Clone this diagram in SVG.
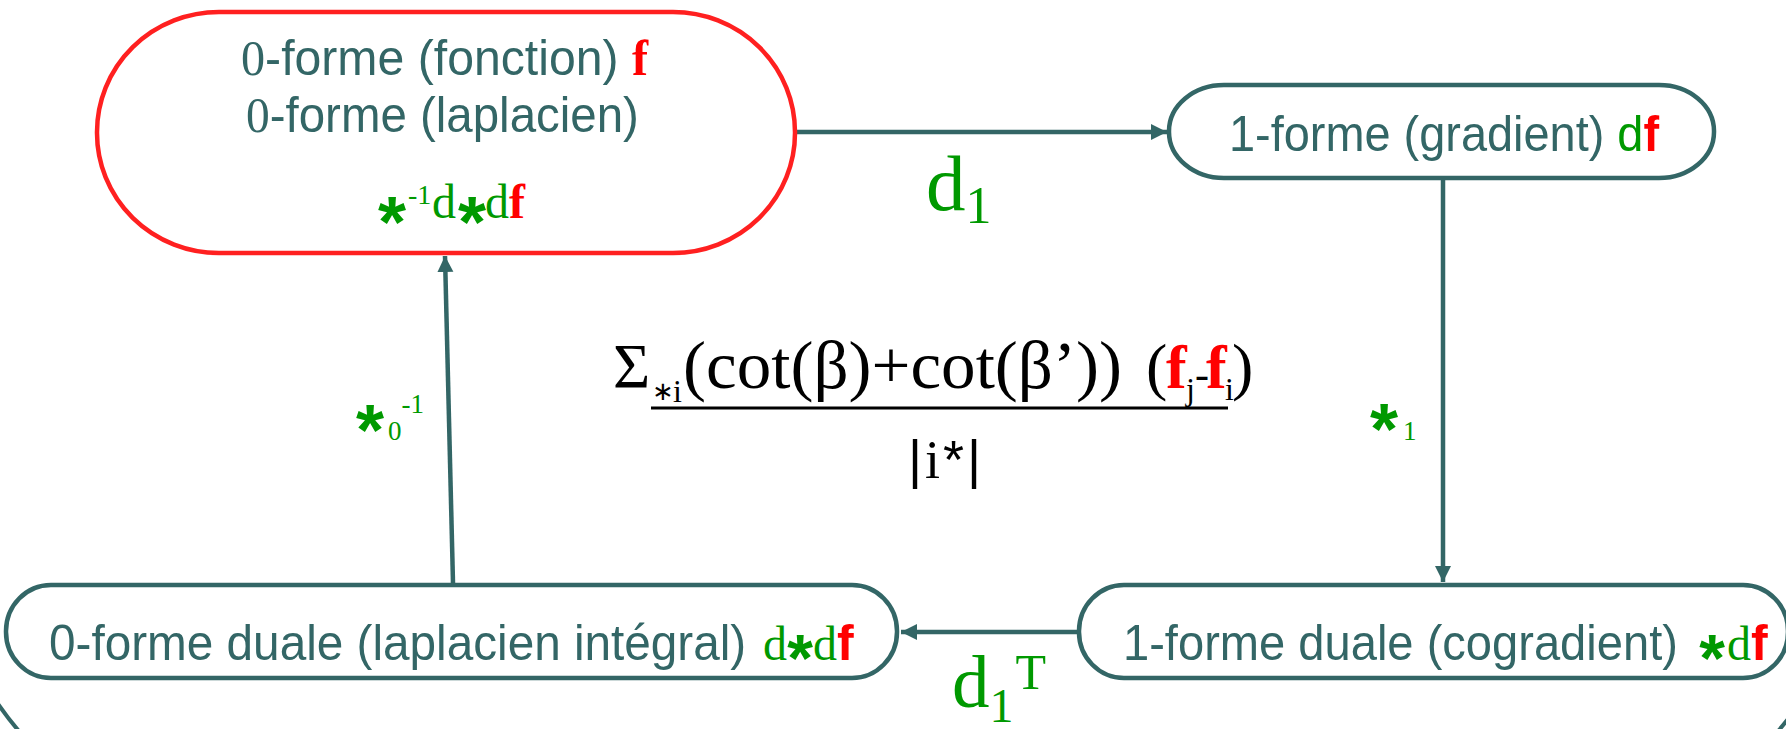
<svg xmlns="http://www.w3.org/2000/svg" width="1786" height="729" viewBox="0 0 1786 729">
<style>
.node{fill:#fff;stroke:#336666;stroke-width:4.5}
.red{fill:#fff;stroke:#ff2020;stroke-width:4.5}
.conn{fill:none;stroke:#336666;stroke-width:4.5}
.sans{font-family:"Liberation Sans",Arial,sans-serif;font-size:50px;fill:#336666}
.serif{font-family:"Liberation Serif","Times New Roman",serif}
.g{fill:#009900}
.r{fill:#ff0000}
.b{font-weight:bold}
.star{font-family:"Liberation Sans",Arial,sans-serif;font-weight:bold;font-size:72px;fill:#009900;text-anchor:middle}
.star2{font-family:"Liberation Sans",Arial,sans-serif;font-weight:bold;font-size:66px;fill:#009900;text-anchor:middle}
.blk{fill:#000}
</style>
<defs>
<marker id="ah" markerWidth="18" markerHeight="18" refX="16" refY="8" orient="auto" markerUnits="userSpaceOnUse">
<path d="M0,0 L16,8 L0,16 Z" fill="#336666"/>
</marker>
</defs>
<rect id="frame" x="-54" y="-200" width="1905" height="1035" rx="300" ry="300" fill="none" stroke="#336666" stroke-width="4"/>
<g id="connectors">
<line class="conn" x1="797" y1="132" x2="1167" y2="132" marker-end="url(#ah)"/>
<line class="conn" x1="1443" y1="180" x2="1443" y2="582" marker-end="url(#ah)"/>
<line class="conn" x1="1077" y1="632" x2="901" y2="632" marker-end="url(#ah)"/>
<line class="conn" x1="453" y1="583" x2="445" y2="256" marker-end="url(#ah)"/>
<text class="serif g" x="926" y="210" font-size="79">d<tspan font-size="52" dy="13">1</tspan></text>
<text class="serif g" x="952" y="707" font-size="75">d<tspan font-size="48" dy="15">1</tspan><tspan font-size="50" dx="2" dy="-33">T</tspan></text>
<text class="star" x="370" y="455">*</text>
<text class="serif g" x="388" y="440" font-size="27">0<tspan dy="-27">-1</tspan></text>
<text class="star" x="1384" y="454">*</text>
<text class="serif g" x="1403" y="440" font-size="27">1</text>
</g>
<g id="n0">
<rect class="red" x="97" y="12" width="698" height="241" rx="122" ry="120"/>
<text class="sans" transform="translate(241,75) scale(0.964,1)"><tspan class="serif">0</tspan>-forme (fonction) <tspan class="serif r b">f</tspan></text>
<text class="sans" transform="translate(246,132) scale(0.949,1)"><tspan class="serif">0</tspan>-forme (laplacien)</text>
<text class="star" x="392" y="247">*</text>
<text class="serif g" x="408" y="204" font-size="28">-1</text>
<text class="serif g" x="432" y="218" font-size="48">d</text>
<text class="star" x="472" y="247">*</text>
<text class="serif g" x="485" y="218" font-size="48">d<tspan class="r b">f</tspan></text>
</g>
<g id="n1">
<rect class="node" x="1169" y="85" width="545" height="93" rx="55" ry="46"/>
<text class="sans" transform="translate(1229,151) scale(0.938,1)">1-forme (gradient) <tspan class="g">d</tspan><tspan class="r b">f</tspan></text>
</g>
<g id="n2">
<rect class="node" x="1079" y="585" width="709" height="93" rx="45" ry="46"/>
<text class="sans" transform="translate(1123,660) scale(0.942,1)">1-forme duale (cogradient)</text>
<text class="star2" x="1712" y="681">*</text>
<text class="serif g" x="1727" y="660" font-size="48">d</text>
<text class="sans r b" x="1751" y="660">f</text>
</g>
<g id="n3">
<rect class="node" x="6" y="585" width="891" height="93" rx="45" ry="46"/>
<text class="sans" transform="translate(49,660) scale(0.954,1)">0-forme duale (laplacien intégral)</text>
<text class="serif g" x="763" y="660" font-size="48">d</text>
<text class="star2" x="800" y="681">*</text>
<text class="serif g" x="813" y="660" font-size="48">d</text>
<text class="sans r b" x="837" y="660">f</text>
</g>
<g id="formula">
<text class="serif blk" x="613" y="388" font-size="64">Σ</text>
<text class="serif blk" x="652" y="400" font-size="26">∗</text>
<text class="serif blk" x="673" y="402" font-size="32">i</text>
<text class="serif blk" x="683" y="388" font-size="68" textLength="439" lengthAdjust="spacingAndGlyphs">(cot(β)+cot(β’))</text>
<text class="serif blk" x="1146" y="388" font-size="64">(</text>
<text class="serif r b" x="1166" y="388" font-size="62">f</text>
<text class="serif blk" x="1186" y="400" font-size="32">j</text>
<text class="serif blk" x="1195" y="388" font-size="42">-</text>
<text class="serif r b" x="1206" y="388" font-size="62">f</text>
<text class="serif blk" x="1225" y="400" font-size="32">i</text>
<text class="serif blk" x="1232" y="388" font-size="64">)</text>
<line x1="651" y1="408" x2="1228" y2="408" stroke="#000" stroke-width="3"/>
<text class="blk" x="908" y="478" font-size="54" textLength="73" lengthAdjust="spacing"><tspan font-family="Liberation Sans, sans-serif">|</tspan><tspan font-family="Liberation Serif, serif">i</tspan><tspan font-family="Liberation Sans, sans-serif">*</tspan><tspan font-family="Liberation Sans, sans-serif">|</tspan></text>
</g>
</svg>
